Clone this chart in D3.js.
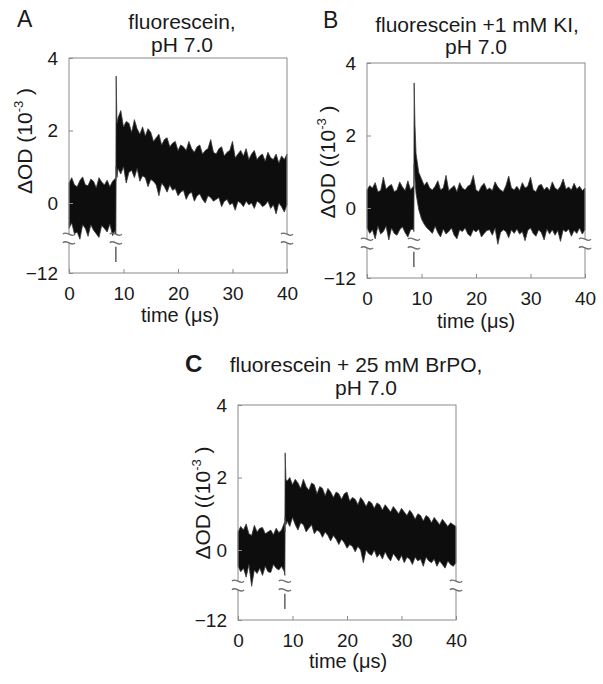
<!DOCTYPE html>
<html>
<head>
<meta charset="utf-8">
<script src="https://cdn.jsdelivr.net/npm/d3@7"></script>
<style>
body { margin: 0; background: #fff; }
svg { display: block; font-family: "Liberation Sans", Arial, sans-serif; }
</style>
</head>
<body>
<div id="chart"></div>
<script>
// time points of the traces (µs), shared by the three panels
var time = [0,0.5,1,1.5,2,2.5,3,3.5,4,4.5,5,5.5,6,6.5,7,7.5,8,8.5,8.6,
  8.65,8.8,
  9,9.5,10,10.5,11,11.5,12,12.5,13,13.5,14,14.5,15,15.5,16,16.5,17,17.5,18,18.5,
  19,19.5,20,20.5,21,21.5,22,22.5,23,23.5,24,24.5,25,25.5,26,26.5,27,27.5,28,28.5,
  29,29.5,30,30.5,31,31.5,32,32.5,33,33.5,34,34.5,35,35.5,36,36.5,37,37.5,38,38.5,
  39,39.5,40];

// upper / lower edge of the noisy trace, dOD in 1e-3
var upperA = [0.55,0.7,0.5,0.45,0.62,0.72,0.5,0.48,0.66,0.6,0.42,0.7,0.58,0.5,0.63,0.45,0.6,0.68,0.62,
  3.5,2.2,
  2.35,2.55,2.1,2.25,2.2,1.95,2.3,2.05,1.9,2.1,
  1.85,2.05,1.95,1.7,1.8,1.9,1.6,1.75,1.8,1.55,
  1.65,1.7,1.45,1.6,1.55,1.45,1.7,1.5,1.4,1.55,
  1.6,1.35,1.45,1.5,1.75,1.4,1.35,1.5,1.55,1.3,
  1.4,1.45,1.7,1.25,1.35,1.45,1.3,1.5,1.2,1.35,
  1.45,1.2,1.3,1.35,1.15,1.4,1.25,1.2,1.35,1.1,
  1.3,1.2,1.35];
var lowerA = [-0.7,-0.55,-0.85,-0.8,-1.0,-0.6,-0.7,-0.92,-0.6,-0.75,-0.85,-0.95,-0.62,-0.7,-0.8,-0.58,-0.9,-0.75,-0.95,
  1.0,0.7,
  0.95,0.8,1.0,0.55,0.85,0.9,0.7,0.95,0.6,0.75,
  0.7,0.45,0.65,0.6,0.5,0.2,0.55,0.45,0.3,0.5,
  0.35,0.4,0.2,0.3,0.35,0.1,0.25,0.3,0.05,0.2,
  0.25,0.1,0.0,0.2,0.15,0.05,0.1,0.15,-0.1,0.05,
  0.1,-0.05,0.0,-0.2,0.05,0.0,-0.1,0.05,-0.05,0.0,
  -0.15,0.05,0.0,-0.1,-0.05,0.05,-0.15,-0.05,-0.3,0.0,
  -0.1,-0.25,-0.05];

var upperB = [0.5,0.62,0.55,0.7,0.45,0.48,0.85,0.52,0.6,0.65,0.45,0.5,0.72,0.58,0.48,0.75,0.5,0.6,0.55,
  3.45,2.3,
  1.5,0.98,0.8,0.62,0.72,0.55,0.5,0.6,0.75,0.5,
  0.55,0.9,0.48,0.55,0.62,0.45,0.7,0.55,0.5,0.6,
  0.65,0.9,0.5,0.45,0.6,0.68,0.5,0.55,0.48,0.72,
  0.58,0.5,0.45,0.62,0.88,0.55,0.5,0.6,0.48,0.7,
  0.55,0.6,0.85,0.5,0.45,0.62,0.65,0.5,0.58,0.48,
  0.72,0.55,0.5,0.6,0.8,0.52,0.58,0.5,0.68,0.52,
  0.6,0.48,0.55];
var lowerB = [-0.55,-0.7,-0.6,-0.85,-0.5,-0.72,-0.65,-0.5,-0.88,-0.55,-0.7,-0.75,-0.6,-0.52,-0.68,-0.8,-0.6,-0.58,-0.65,
  1.2,0.8,
  0.4,-0.05,-0.3,-0.45,-0.55,-0.62,-0.7,-0.5,-0.68,-0.8,
  -0.58,-0.72,-0.65,-0.55,-0.75,-0.85,-0.6,-0.65,-0.55,-0.72,
  -0.78,-0.6,-0.66,-0.58,-0.8,-0.7,-0.62,-0.6,-0.75,-0.55,
  -1.0,-0.68,-0.6,-0.65,-0.82,-0.6,-0.7,-0.58,-0.72,-0.65,
  -0.9,-0.62,-0.55,-0.7,-0.78,-0.6,-0.68,-0.88,-0.58,-0.72,
  -0.6,-0.75,-0.62,-0.92,-0.6,-0.66,-0.58,-0.78,-0.62,-0.7,
  -0.55,-0.72,-0.6];

var upperC = [0.5,0.65,0.55,0.72,0.45,0.4,0.68,0.5,0.6,0.62,0.45,0.5,0.55,0.42,0.6,0.48,0.55,0.75,0.5,
  2.68,1.95,
  1.9,2.0,1.8,1.95,1.85,1.7,1.95,1.75,1.65,1.85,
  1.8,1.55,1.75,1.7,1.5,1.7,1.6,1.45,1.6,1.55,
  1.4,1.55,1.6,1.35,1.45,1.4,1.25,1.45,1.35,1.2,
  1.35,1.3,1.15,1.3,1.25,1.1,1.25,1.15,1.05,1.2,
  1.1,1.0,1.15,1.05,0.95,1.1,1.0,0.85,1.0,0.95,
  0.8,0.95,0.9,0.75,0.9,0.8,0.7,0.85,0.75,0.65,
  0.75,0.7,0.65];
var lowerC = [-0.45,-0.6,-0.5,-0.75,-0.4,-1.0,-0.55,-0.65,-0.5,-0.7,-0.45,-0.6,-0.62,-0.4,-0.5,-0.55,-0.45,-0.6,-0.7,
  0.9,0.7,
  0.8,0.65,0.9,0.7,0.55,0.75,0.7,0.5,0.6,0.7,
  0.45,0.55,0.5,0.35,0.5,0.4,0.25,0.4,0.3,0.15,
  0.3,0.2,0.05,0.15,0.1,-0.05,0.1,0.0,-0.35,0.0,
  -0.1,-0.15,0.0,-0.2,-0.1,-0.25,-0.05,-0.2,-0.3,-0.1,
  -0.2,-0.3,-0.15,-0.35,-0.2,-0.25,-0.4,-0.2,-0.3,-0.25,
  -0.45,-0.2,-0.3,-0.35,-0.25,-0.45,-0.3,-0.4,-0.5,-0.3,
  -0.4,-0.45,-0.35];

var yTicks = [4, 2, 0, -12];
var xTicks = [0, 10, 20, 30, 40];
var triggerTime = 8.6;
var breakTimes = [0, triggerTime, 40];
var breakValues = [-0.86, -1.1];   // the two "~" marks of the broken axis
var triggerMark = [-1.3, -7.5];    // short line under the trigger

var panels = [
  { letter: 'A', bold: false, title: ['fluorescein,', 'pH 7.0'], ylab: 'ΔOD (10',
    upper: upperA, lower: lowerA,
    left: 69, top: 58, lx: 17, ly: 27, t1: [182, 29], t2: [182, 52], yl: [32, 141], xl: [180, 322] },
  { letter: 'B', bold: false, title: ['fluorescein +1 mM KI,', 'pH 7.0'], ylab: 'ΔOD ((10',
    upper: upperB, lower: lowerB,
    left: 367, top: 63, lx: 323, ly: 28, t1: [477, 32], t2: [476, 54], yl: [335, 162], xl: [476, 328] },
  { letter: 'C', bold: true, title: ['fluorescein + 25 mM BrPO,', 'pH 7.0'], ylab: 'ΔOD ((10',
    upper: upperC, lower: lowerC,
    left: 238, top: 405, lx: 185, ly: 372, t1: [356, 372], t2: [366, 395], yl: [210, 503], xl: [348, 668] }
];

var W = 603, H = 684;
var boxW = 218, boxH = 215;
var axisColor = '#8a8a8a';
var textColor = '#1a1a1a';

var svg = d3.select('#chart').append('svg')
  .attr('width', W)
  .attr('height', H);

panels.forEach(function(p) {
  var x = d3.scaleLinear().domain([0, 40]).range([0, boxW]);
  // broken y axis: -12 sits just below the compressed gap
  var y = d3.scaleLinear()
    .domain([-12, -1.2, 4])
    .range([boxH, boxH - 26.5, 0]);

  var g = svg.append('g')
    .attr('transform', 'translate(' + p.left + ',' + p.top + ')');

  // trace
  var rows = time.map(function(t, i) {
    return { t: t, hi: p.upper[i], lo: p.lower[i] };
  });
  var area = d3.area()
    .x(function(d) { return x(d.t); })
    .y0(function(d) { return y(d.lo); })
    .y1(function(d) { return y(d.hi); });

  g.append('path')
    .datum(rows)
    .attr('d', area)
    .attr('fill', '#0d0d0d')
    .attr('stroke', '#3a3a3a')
    .attr('stroke-width', 0.8)
    .attr('stroke-linejoin', 'miter');

  // box
  g.append('rect')
    .attr('x', 0).attr('y', 0)
    .attr('width', boxW).attr('height', boxH)
    .attr('fill', 'none')
    .attr('stroke', axisColor)
    .attr('stroke-width', 1);

  // axes
  var yAxis = d3.axisLeft(y).tickValues(yTicks).tickSizeInner(-4).tickSizeOuter(0).tickPadding(11);
  var xAxis = d3.axisBottom(x).tickValues(xTicks).tickSizeInner(-4).tickSizeOuter(0).tickPadding(14);

  var ya = g.append('g').call(yAxis);
  var xa = g.append('g').attr('transform', 'translate(0,' + boxH + ')').call(xAxis);
  [ya, xa].forEach(function(a) {
    a.select('.domain').remove();
    a.selectAll('line').attr('stroke', axisColor);
    a.selectAll('text')
      .attr('fill', textColor)
      .style('font-size', '19px')
      .style('font-family', '"Liberation Sans", Arial, sans-serif');
  });

  // gap in the y axis + break marks
  breakTimes.forEach(function(t) {
    g.append('rect')
      .attr('x', x(t) - 2)
      .attr('y', y(breakValues[0]))
      .attr('width', 4)
      .attr('height', y(breakValues[1]) - y(breakValues[0]))
      .attr('fill', '#fff');
    breakValues.forEach(function(v) {
      g.append('path')
        .attr('d', 'M-6,0 C-3,-4.5 3,4.5 6,0')
        .attr('transform', 'translate(' + x(t) + ',' + y(v) + ')')
        .attr('fill', 'none')
        .attr('stroke', '#6e6e6e')
        .attr('stroke-width', 1.3);
    });
  });

  g.append('line')
    .attr('x1', x(triggerTime)).attr('x2', x(triggerTime))
    .attr('y1', y(triggerMark[0])).attr('y2', y(triggerMark[1]))
    .attr('stroke', '#4a4a4a')
    .attr('stroke-width', 1.3);

  // texts
  svg.append('text')
    .attr('x', p.lx).attr('y', p.ly)
    .attr('fill', textColor)
    .style('font-size', p.bold ? '24px' : '23px')
    .style('font-weight', p.bold ? 'bold' : 'normal')
    .text(p.letter);

  [p.t1, p.t2].forEach(function(pos, i) {
    svg.append('text')
      .attr('x', pos[0]).attr('y', pos[1])
      .attr('text-anchor', 'middle')
      .attr('fill', textColor)
      .style('font-size', '21px')
      .text(p.title[i]);
  });

  var yl = svg.append('text')
    .attr('transform', 'translate(' + p.yl[0] + ',' + p.yl[1] + ') rotate(-90)')
    .attr('text-anchor', 'middle')
    .attr('fill', textColor)
    .style('font-size', '21px');
  yl.append('tspan').text(p.ylab);
  yl.append('tspan').attr('dy', -9).style('font-size', '13px').text('-3');
  yl.append('tspan').attr('dy', 9).text(' )');

  svg.append('text')
    .attr('x', p.xl[0]).attr('y', p.xl[1])
    .attr('text-anchor', 'middle')
    .attr('fill', textColor)
    .style('font-size', '20px')
    .text('time (μs)');
});
</script>
</body>
</html>
